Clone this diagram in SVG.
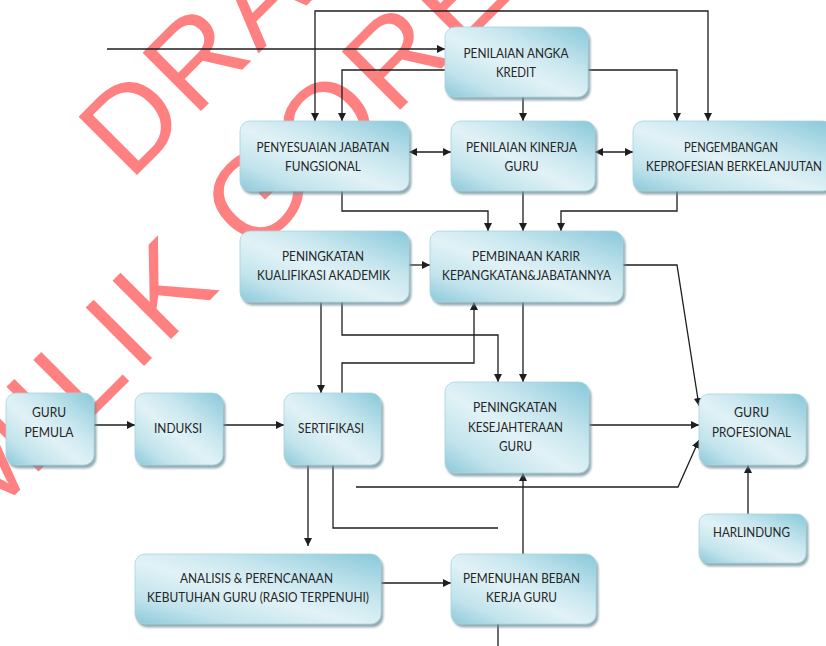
<svg xmlns="http://www.w3.org/2000/svg" width="826" height="646" viewBox="0 0 826 646">
<defs>
<style>
.box{fill:url(#g);stroke:#a8d3de;stroke-width:0.8;filter:url(#sh)}
.t{font-family:Lato,"Liberation Sans",sans-serif;font-size:13px;fill:#262626;text-anchor:middle}
.c path{fill:none;stroke:#1e1e1e;stroke-width:1.3}
.wm{font-family:"Liberation Sans",Arial,sans-serif;font-size:120px;fill:#ff8080}
</style>
<linearGradient id="g" x1="1" y1="0" x2="0" y2="1">
<stop offset="0" stop-color="#89c8d9"/>
<stop offset="0.35" stop-color="#c9e7ef"/>
<stop offset="0.55" stop-color="#e1f2f6"/>
<stop offset="0.8" stop-color="#c1e3ec"/>
<stop offset="1" stop-color="#8cc9d9"/>
</linearGradient>
<filter id="sh" x="-10%" y="-10%" width="125%" height="130%">
<feDropShadow dx="2" dy="3" stdDeviation="1.2" flood-color="#6d8e98" flood-opacity="0.75"/>
</filter>
<marker id="a" viewBox="0 0 10 10" refX="10" refY="5" markerWidth="8" markerHeight="8" markerUnits="userSpaceOnUse" orient="auto-start-reverse">
<path d="M0,0 L10,5 L0,10 Z" fill="#1e1e1e"/>
</marker>
</defs>
<rect width="826" height="646" fill="#ffffff"/>
<g id="watermark">
<text class="wm" x="130" y="182" transform="rotate(-45 130 182)" letter-spacing="4">DRA</text>
<text class="wm" x="-18" y="528" transform="rotate(-45 -18 528)" letter-spacing="6">MILIK GORES</text>
</g>
<g class="c" id="connectors">
<path d="M107,49 H445" marker-end="url(#a)"/>
<path d="M315,121 V11 H708 V121" marker-start="url(#a)" marker-end="url(#a)"/>
<path d="M445,70 H342 V121" marker-end="url(#a)"/>
<path d="M588,70 H677 V121" marker-end="url(#a)"/>
<path d="M523,97 V121" marker-end="url(#a)"/>
<path d="M409,152 H451" marker-start="url(#a)" marker-end="url(#a)"/>
<path d="M595,152 H633" marker-start="url(#a)" marker-end="url(#a)"/>
<path d="M342,191 V211 H488 V231" marker-end="url(#a)"/>
<path d="M523,191 V231" marker-end="url(#a)"/>
<path d="M677,191 V211 H561 V231" marker-end="url(#a)"/>
<path d="M409,265 H430" marker-end="url(#a)"/>
<path d="M623,265 H677 L699,406" marker-end="url(#a)"/>
<path d="M321,302 V393" marker-end="url(#a)"/>
<path d="M342,302 V335 H498 V382" marker-end="url(#a)"/>
<path d="M342,393 V363 H474 V302" marker-end="url(#a)"/>
<path d="M523,302 V382" marker-end="url(#a)"/>
<path d="M94,425 H135" marker-end="url(#a)"/>
<path d="M223,425 H284" marker-end="url(#a)"/>
<path d="M308,465 V546" marker-end="url(#a)"/>
<path d="M333,465 V528 H498"/>
<path d="M356,487 H678 L699,440" marker-end="url(#a)"/>
<path d="M589,425 H699" marker-end="url(#a)"/>
<path d="M748,514 V465" marker-end="url(#a)"/>
<path d="M498,624 V646"/>
<path d="M523,554 V473" marker-end="url(#a)"/>
<path d="M381,583 H451" marker-end="url(#a)"/>
</g>
<g id="n-pak">
<rect class="box" x="445" y="27" width="143" height="70" rx="10"/>
<text class="t" x="516" y="57.5" textLength="105" lengthAdjust="spacingAndGlyphs">PENILAIAN ANGKA</text>
<text class="t" x="516" y="76.5" textLength="40" lengthAdjust="spacingAndGlyphs">KREDIT</text>
</g>
<g id="n-pjf">
<rect class="box" x="240" y="121" width="169" height="70" rx="10"/>
<text class="t" x="323" y="151.5" textLength="133" lengthAdjust="spacingAndGlyphs">PENYESUAIAN JABATAN</text>
<text class="t" x="323" y="170.5" textLength="76" lengthAdjust="spacingAndGlyphs">FUNGSIONAL</text>
</g>
<g id="n-pkg">
<rect class="box" x="451" y="121" width="144" height="70" rx="10"/>
<text class="t" x="521.5" y="151.5" textLength="111" lengthAdjust="spacingAndGlyphs">PENILAIAN KINERJA</text>
<text class="t" x="521.5" y="170.5" textLength="34" lengthAdjust="spacingAndGlyphs">GURU</text>
</g>
<g id="n-pkb">
<rect class="box" x="633" y="121" width="200" height="70" rx="10"/>
<text class="t" x="731" y="151.5" textLength="94" lengthAdjust="spacingAndGlyphs">PENGEMBANGAN</text>
<text class="t" x="734" y="170.5" textLength="176" lengthAdjust="spacingAndGlyphs">KEPROFESIAN BERKELANJUTAN</text>
</g>
<g id="n-pka">
<rect class="box" x="240" y="231" width="169" height="71" rx="10"/>
<text class="t" x="323" y="260.5" textLength="82" lengthAdjust="spacingAndGlyphs">PENINGKATAN</text>
<text class="t" x="323.5" y="279.5" textLength="133" lengthAdjust="spacingAndGlyphs">KUALIFIKASI AKADEMIK</text>
</g>
<g id="n-pkr">
<rect class="box" x="430" y="231" width="193" height="71" rx="10"/>
<text class="t" x="526" y="260.5" textLength="108" lengthAdjust="spacingAndGlyphs">PEMBINAAN KARIR</text>
<text class="t" x="526.5" y="279.5" textLength="169" lengthAdjust="spacingAndGlyphs">KEPANGKATAN&amp;JABATANNYA</text>
</g>
<g id="n-gp">
<rect class="box" x="6" y="393" width="88" height="72" rx="10"/>
<text class="t" x="49" y="416.5" textLength="34" lengthAdjust="spacingAndGlyphs">GURU</text>
<text class="t" x="49" y="436.5" textLength="49" lengthAdjust="spacingAndGlyphs">PEMULA</text>
</g>
<g id="n-ind">
<rect class="box" x="135" y="393" width="88" height="72" rx="10"/>
<text class="t" x="178" y="432.5" textLength="48" lengthAdjust="spacingAndGlyphs">INDUKSI</text>
</g>
<g id="n-ser">
<rect class="box" x="284" y="393" width="97" height="72" rx="10"/>
<text class="t" x="331" y="432.5" textLength="66" lengthAdjust="spacingAndGlyphs">SERTIFIKASI</text>
</g>
<g id="n-pkes">
<rect class="box" x="445" y="382" width="144" height="91" rx="10"/>
<text class="t" x="515" y="411.5" textLength="84" lengthAdjust="spacingAndGlyphs">PENINGKATAN</text>
<text class="t" x="515.5" y="431.5" textLength="95" lengthAdjust="spacingAndGlyphs">KESEJAHTERAAN</text>
<text class="t" x="515.5" y="450.5" textLength="33" lengthAdjust="spacingAndGlyphs">GURU</text>
</g>
<g id="n-gpro">
<rect class="box" x="699" y="394" width="107" height="71" rx="10"/>
<text class="t" x="751.5" y="416.5" textLength="35" lengthAdjust="spacingAndGlyphs">GURU</text>
<text class="t" x="751.5" y="436.5" textLength="79" lengthAdjust="spacingAndGlyphs">PROFESIONAL</text>
</g>
<g id="n-har">
<rect class="box" x="699" y="514" width="107" height="49" rx="9"/>
<text class="t" x="751.5" y="536.5" textLength="77" lengthAdjust="spacingAndGlyphs">HARLINDUNG</text>
</g>
<g id="n-ana">
<rect class="box" x="135" y="554" width="246" height="70" rx="10"/>
<text class="t" x="256.5" y="582.5" textLength="153" lengthAdjust="spacingAndGlyphs">ANALISIS  &amp; PERENCANAAN</text>
<text class="t" x="258" y="601.5" textLength="222" lengthAdjust="spacingAndGlyphs">KEBUTUHAN GURU (RASIO TERPENUHI)</text>
</g>
<g id="n-pbk">
<rect class="box" x="451" y="554" width="145" height="70" rx="10"/>
<text class="t" x="521.5" y="582.5" textLength="117" lengthAdjust="spacingAndGlyphs">PEMENUHAN BEBAN</text>
<text class="t" x="521.5" y="601.5" textLength="71" lengthAdjust="spacingAndGlyphs">KERJA GURU</text>
</g>
</svg>
